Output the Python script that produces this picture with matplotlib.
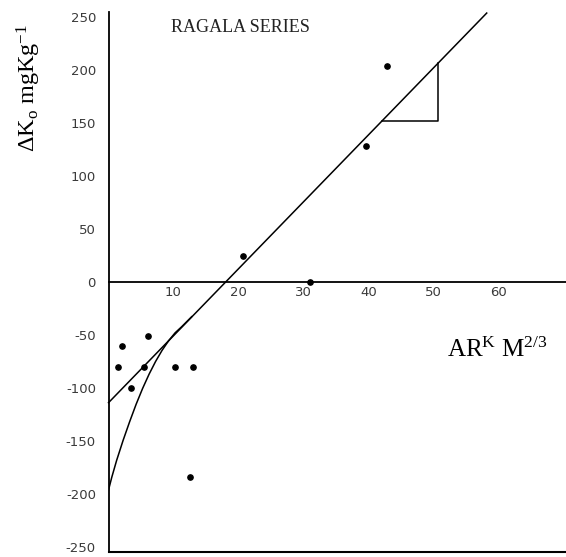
import matplotlib
matplotlib.use("Agg")
import matplotlib.pyplot as plt

# ---- data ----
pts_x = [20.7, 42.8, 39.7, 31.0, 6.1, 2.1, 1.5, 5.5, 10.2, 13.0, 3.5, 12.5]
pts_y = [25, 204, 128, 0, -51, -60, -80, -80, -80, -80, -100, -184]

fit_x = [0.0, 58.2]
fit_y = [-114.0, 254.0]

curve_x = [0.0, 0.5, 1.25, 2.25, 3.25, 4.25, 5.25, 6.25, 7.25, 8.25, 9.25,
           10.25, 11.25, 12.8]
curve_y = [-196.5, -184.5, -168.5, -149.5, -132.0, -115.5, -100.5, -87.0, -75.0,
           -64.5, -55.5, -48.0, -42.3, -32.8]

tri_x = [42.1, 50.7, 50.7]
tri_y = [152.3, 152.3, 206.6]

y_ticks = [250, 200, 150, 100, 50, 0, -50, -100, -150, -200, -250]
x_ticks = [10, 20, 30, 40, 50, 60]

plt.rcParams['mathtext.fontset'] = 'custom'
plt.rcParams['mathtext.rm'] = 'Liberation Serif'
plt.rcParams['mathtext.it'] = 'Liberation Serif:italic'

fig = plt.figure(figsize=(5.66, 5.57), dpi=100)
ax = fig.add_axes([108.5 / 566, 5 / 557, 1 - 108.5 / 566, 540 / 557])
ax.set_xlim(0, 70.4)
ax.set_ylim(-255, 255)

for s in ['top', 'right']:
    ax.spines[s].set_visible(False)
ax.spines['left'].set_linewidth(1.3)
ax.spines['bottom'].set_position(('data', 0))
ax.spines['bottom'].set_linewidth(1.3)
ax.axhline(-255, color='black', lw=1.5, clip_on=False)

ax.set_yticks(y_ticks)
ax.set_yticklabels([str(t) for t in y_ticks])
ax.set_xticks(x_ticks)
ax.set_xticklabels([str(t) for t in x_ticks])
ax.tick_params(axis='y', length=0, pad=9, labelsize=9.5, labelcolor='#3a3a3a')
ax.tick_params(axis='x', length=0, pad=3, labelsize=9.5, labelcolor='#3a3a3a')

ax.plot(fit_x, fit_y, color='black', lw=1.1, clip_on=False)
ax.plot(curve_x, curve_y, color='black', lw=1.1)
ax.plot(tri_x, tri_y, color='black', lw=1.1)
ax.plot(pts_x, pts_y, 'o', color='black', markersize=3.8, clip_on=False)

fig.text(240.8 / 566, 1 - 27.7 / 557, 'RAGALA SERIES', family='Liberation Serif',
         fontsize=13, color='#222222', ha='center', va='center')
fig.text(29 / 566, 1 - 88 / 557, r'$\Delta\mathrm{K_o\ mgKg^{-1}}$',
         fontsize=17.5, rotation=90, ha='center', va='center')
fig.text(497 / 566, 1 - 350 / 557, r'$\mathrm{AR^K\ M^{2/3}}$',
         fontsize=18, ha='center', va='center')

fig.savefig('out.png', dpi=100)
